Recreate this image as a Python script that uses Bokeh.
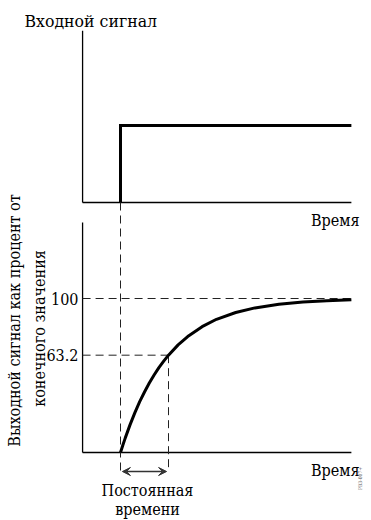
import math
from bokeh.plotting import figure
from bokeh.models import Range1d, Arrow, VeeHead, Label
from bokeh.embed import file_html
from bokeh.resources import INLINE

# ---------------- data ----------------
# time in units of the time constant (step applied at t = 0)
t_axis = [-0.79, 4.81]                 # extent of both time axes
input_y_top = 2.23                     # top of the input-signal axis
step_t = [0.0, 0.0, 4.81]
step_v = [0.0, 1.0, 1.0]               # input signal (normalised)

resp_t = [0.0, 0.05, 0.1, 0.2, 0.3, 0.4, 0.5, 0.6, 0.7, 0.8, 0.9, 1.0, 1.2, 1.4,
          1.7, 2.0, 2.4, 2.8, 3.3, 3.8, 4.3, 4.81]
resp_p = [0.0, 4.9, 9.5, 18.1, 25.9, 33.0, 39.3, 45.1, 50.3, 55.1, 59.3, 63.2,
          69.9, 75.3, 81.7, 86.5, 90.9, 93.9, 96.3, 97.8, 98.6, 99.2]
output_y_top = 149.4                   # top of the output axis (percent units)

final_value = 100.0
tau_value = 63.2
tau = 1.0
ref_labels = ["100", "63.2"]
ref_values = [100.0, 63.2]

# ---------------- layout ----------------
W, H = 371, 520
PX_T = 48.0          # px per time constant
X0 = 120.0           # canvas x of t=0
P_PX = 1.54          # px per percent
P0 = 452.0           # canvas y of P=0
I_PX = 77.0          # px per input unit
I0 = 202.0           # canvas y of input 0

p = figure(width=W, height=H, output_backend="svg", toolbar_location=None,
           x_axis_type=None, y_axis_type=None, min_border=0,
           x_range=Range1d(-X0 / PX_T, (W - X0) / PX_T),
           y_range=Range1d((P0 - H) / P_PX, P0 / P_PX))
p.extra_y_ranges = {"inp": Range1d((I0 - H) / I_PX, I0 / I_PX)}
p.grid.visible = False
p.outline_line_color = None
p.background_fill_color = "white"
p.border_fill_color = "white"

def tx(px):   # canvas x -> time
    return (px - X0) / PX_T
def py(px):   # canvas y -> percent
    return (P0 - px) / P_PX
def iy(px):   # canvas y -> input units
    return (I0 - px) / I_PX

FONT = "DejaVu Serif Condensed, DejaVu Serif"
FS = "16px"
arrow_p = py(471)

# ---- top panel ----
p.line([t_axis[0], t_axis[0]], [0, input_y_top], y_range_name="inp", line_color="black", line_width=1.3)
p.line(t_axis, [0, 0], y_range_name="inp", line_color="black", line_width=1.3)
p.line(step_t, step_v, y_range_name="inp", line_color="black", line_width=3, line_join="miter")

# ---- bottom panel ----
p.line([t_axis[0], t_axis[0]], [0, output_y_top], line_color="black", line_width=1.3)
p.line(t_axis, [0, 0], line_color="black", line_width=1.3)

DASH = "8 5"
p.line(t_axis, [final_value, final_value], line_color="#222222", line_width=1, line_dash=DASH)
p.line([t_axis[0], tau], [tau_value, tau_value], line_color="#222222", line_width=1, line_dash=DASH)
p.line([tau, tau], [tau_value, arrow_p], line_color="#222222", line_width=1, line_dash=DASH)
p.line([0, 0], [0, iy(471)], y_range_name="inp", line_color="#222222", line_width=1, line_dash=DASH)

p.line(resp_t, resp_p, line_color="black", line_width=3)

p.add_layout(Arrow(x_start=0.04, y_start=arrow_p, x_end=tau - 0.04, y_end=arrow_p,
                   line_color="#333333", line_width=1.5,
                   start=VeeHead(size=8, fill_color="#333333", line_color="#333333", line_width=1),
                   end=VeeHead(size=8, fill_color="#333333", line_color="#333333", line_width=1)))

# ---- texts ----
def label(x, y, text, align="center", angle=0.0, rng="default", size=FS, color="black"):
    p.add_layout(Label(x=x, y=y, text=text, y_range_name=rng, angle=angle,
                       text_font=FONT, text_font_size=size, text_color=color,
                       text_align=align, text_baseline="middle"))

label(tx(24), iy(20), "Входной сигнал", align="left", rng="inp", size="17.5px")
label(tx(359), iy(220), "Время", align="right", rng="inp")
label(tx(359), py(470), "Время", align="right")
for lab, v in zip(ref_labels, ref_values):
    label(tx(78), v, lab, align="right")
label(tx(147), py(490), "Постоянная")
label(tx(147), py(509), "времени")
label(tx(14), py(320), "Выходной сигнал как процент от", angle=math.pi / 2)
label(tx(39), py(328), "конечного значения", angle=math.pi / 2)
label(tx(359), py(478), "PB3-007+", angle=math.pi / 2, size="5px", color="#555555")

open("out.html", "w").write(file_html(p, INLINE))
